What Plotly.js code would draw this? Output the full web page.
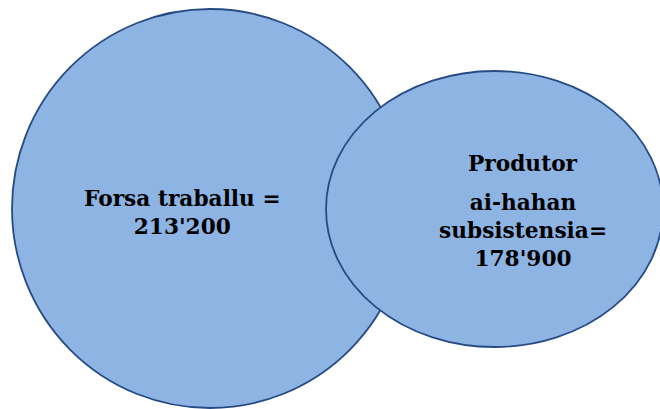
<!DOCTYPE html>
<html>
<head>
<meta charset="utf-8">
<script src="https://cdn.plot.ly/plotly-3.0.1.min.js"></script>
<style>
  html, body { margin: 0; padding: 0; background: #fff; }
  #chart { width: 660px; height: 409px; }
</style>
</head>
<body>
<div id="chart"></div>
<script>
// data
var groups = ["Forsa traballu", "Produtor"];
var groupNotes = ["", "ai-hahan subsistensia"];
var values = [213200, 178900];

var fill = "#8eb4e3";
var edge = "#264b84";
var font = { family: "DejaVu Serif", size: 21.7, color: "#000" };

// 213200 -> 213'200
var fmt = function (v) {
    return String(v).replace(/\B(?=(\d{3})+(?!\d))/g, "'");
};

// the two bubbles, in pixel-like axis units
var bubbles = [
    { x0: 12, x1: 408, y0: 9, y1: 408 },
    { x0: 326, x1: 663, y0: 71, y1: 347 }
];

var shapes = bubbles.map(function (b) {
    return {
        type: "circle", xref: "x", yref: "y",
        x0: b.x0, x1: b.x1, y0: b.y0, y1: b.y1,
        fillcolor: fill,
        line: { color: edge, width: 1.8 },
        layer: "above"
    };
});

var annotations = [
    {
        x: 182, y: 212,
        text: "<b>" + groups[0] + " =<br>" + fmt(values[0]) + "</b>"
    },
    {
        x: 523, y: 163,
        text: "<b>" + groups[1] + "</b>"
    },
    {
        x: 523, y: 230,
        text: "<b>" + groupNotes[1].replace(" ", "<br>") + "=<br>" + fmt(values[1]) + "</b>"
    }
].map(function (a) {
    a.xref = "x"; a.yref = "y";
    a.showarrow = false;
    a.align = "center";
    a.font = font;
    return a;
});

var layout = {
    width: 660, height: 409,
    margin: { l: 0, r: 0, t: 0, b: 0 },
    paper_bgcolor: "#fff", plot_bgcolor: "#fff",
    showlegend: false,
    xaxis: { range: [0, 660], visible: false, fixedrange: true },
    yaxis: { range: [409, 0], visible: false, fixedrange: true },
    shapes: shapes,
    annotations: annotations
};

Plotly.newPlot("chart", [], layout, { staticPlot: true });
</script>
</body>
</html>
